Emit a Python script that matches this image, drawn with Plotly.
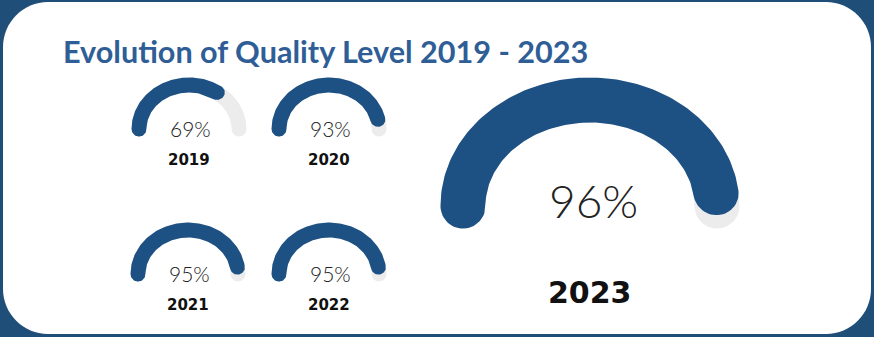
import numpy as np
import plotly.graph_objects as go

# Quality level per year (percent)
years = ["2019", "2020", "2021", "2022", "2023"]
quality = [69, 93, 95, 95, 96]

W, H = 874, 337
NAVY = "#1f4e78"
ARC_BLUE = "#1d5083"
TRACK = "#ececec"

# gauge placement in page pixels: centre x, centre y, x radius, y radius, stroke
gauge_geom = {
    "2019": (189, 129, 50, 44, 15),
    "2020": (329, 129, 50, 44, 15),
    "2021": (188, 274, 50, 44, 15),
    "2022": (329, 274, 50, 44, 15),
    "2023": (590, 206, 127, 106, 45),
}


def arc_polygon(cx, cy, rx, ry, t, frac, n=120):
    """Closed outline of an elliptical arc band with round ends.
    The arc runs from 180 deg (left) clockwise over the top; frac=1 is a half circle."""
    th0, th1 = np.pi, np.pi * (1 - frac)
    th = np.linspace(th0, th1, n)
    h = t / 2.0

    def centre(a):
        return np.array([cx + rx * np.cos(a), cy - ry * np.sin(a)])

    def normal(a):
        return np.array([np.cos(a), -np.sin(a)])

    def tangent(a):  # direction of travel (angle decreasing), y pointing down
        v = np.array([rx * np.sin(a), ry * np.cos(a)])
        return v / np.linalg.norm(v)

    pts = []
    for a in th:
        pts.append(centre(a) + h * normal(a))
    phi = np.linspace(0, np.pi, 30)
    p, nn, tt = centre(th1), normal(th1), tangent(th1)
    for f in phi:
        pts.append(p + h * (nn * np.cos(f) + tt * np.sin(f)))
    for a in th[::-1]:
        pts.append(centre(a) - h * normal(a))
    p, nn, tt = centre(th0), normal(th0), tangent(th0)
    for f in phi:
        pts.append(p + h * (-nn * np.cos(f) - tt * np.sin(f)))
    pts = np.array(pts)
    return np.append(pts[:, 0], pts[0, 0]), np.append(pts[:, 1], pts[0, 1])


fig = go.Figure()

for yr, val in zip(years, quality):
    cx, cy, rx, ry, t = gauge_geom[yr]
    xs, ys = arc_polygon(cx, cy, rx, ry, t, 1.0)
    fig.add_trace(go.Scatter(x=xs, y=ys, mode="lines", fill="toself",
                             fillcolor=TRACK, line=dict(width=0),
                             hoverinfo="skip", showlegend=False))
    xs, ys = arc_polygon(cx, cy, rx, ry, t, val / 100.0)
    fig.add_trace(go.Scatter(x=xs, y=ys, mode="lines", fill="toself",
                             fillcolor=ARC_BLUE, line=dict(width=0),
                             hoverinfo="text", text=f"{yr}: {val}%",
                             showlegend=False))

    big = yr == "2023"
    fig.add_annotation(x=cx + (3 if big else 1), y=cy - (6 if big else 1),
                       text=f"{val}%", showarrow=False,
                       xanchor="center", yanchor="middle",
                       font=dict(family="Lato", size=46 if big else 21,
                                 color="#222222", weight=300))
    fig.add_annotation(x=cx, y=cy + (86 if big else 31),
                       text=f"<b>{yr}</b>", showarrow=False,
                       xanchor="center", yanchor="middle",
                       font=dict(family="DejaVu Sans", size=30 if big else 15,
                                 color="#111111"))

# title
fig.add_annotation(x=61, y=51, text="<b>Evolution of Quality Level 2019 - 2023</b>",
                   showarrow=False, xanchor="left", yanchor="middle",
                   font=dict(family="Lato", size=30.6, color="#2f5e97"))

# white rounded panel on the navy background
x0, y0, x1, y1, r = 3, 2, 871, 334, 45
k = 0.55 * r
panel = (f"M {x0 + r},{y0} L {x1 - r},{y0} "
         f"C {x1 - r + k},{y0} {x1},{y0 + r - k} {x1},{y0 + r} "
         f"L {x1},{y1 - r} "
         f"C {x1},{y1 - r + k} {x1 - r + k},{y1} {x1 - r},{y1} "
         f"L {x0 + r},{y1} "
         f"C {x0 + r - k},{y1} {x0},{y1 - r + k} {x0},{y1 - r} "
         f"L {x0},{y0 + r} "
         f"C {x0},{y0 + r - k} {x0 + r - k},{y0} {x0 + r},{y0} Z")
fig.add_shape(type="path", path=panel, xref="x", yref="y",
              fillcolor="white", line=dict(width=0), layer="below")

fig.update_layout(
    width=W, height=H,
    margin=dict(l=0, r=0, t=0, b=0),
    paper_bgcolor=NAVY, plot_bgcolor=NAVY,
    xaxis=dict(range=[0, W], visible=False, fixedrange=True),
    yaxis=dict(range=[H, 0], visible=False, fixedrange=True),
    showlegend=False,
)

fig.write_html("out.html")
